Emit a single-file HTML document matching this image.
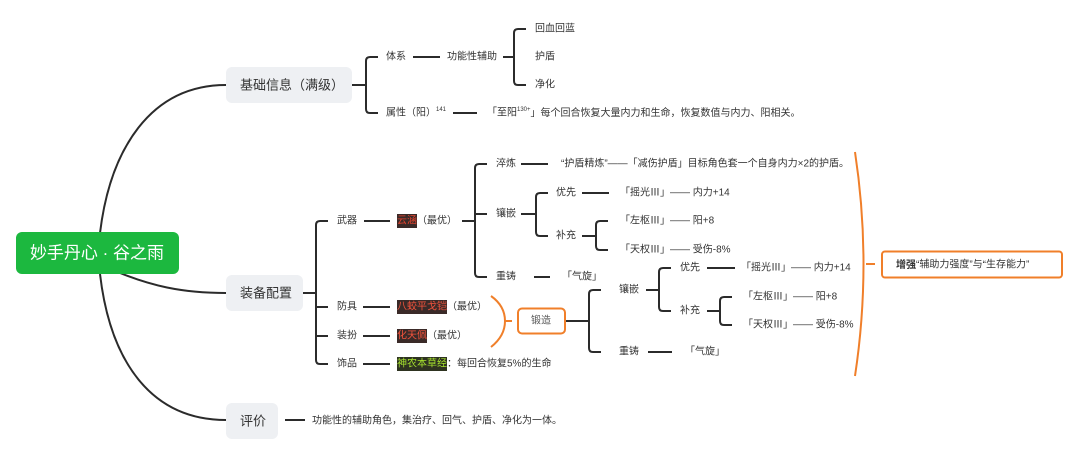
<!DOCTYPE html>
<html><head><meta charset="utf-8"><style>
html,body{margin:0;padding:0;background:#fff;}
svg{display:block;}
text{font-family:"Liberation Sans","Noto Sans CJK SC",sans-serif;fill:#333;dominant-baseline:central;}
.s{font-size:10px;}
.m{font-size:13px;}
</style></head><body>
<svg width="1080" height="456" viewBox="0 0 1080 456" xmlns="http://www.w3.org/2000/svg">
<g fill="none" stroke="#2b2b2b" stroke-width="2">
<path d="M100 233 C110 150 150 85 226 85"/>
<path d="M120 273 C150 285 180 293 226 293"/>
<path d="M100 274 C110 360 150 420 226 420"/>
<path d="M352 85 H366"/>
<path d="M378 57 H370 Q366 57 366 61 V109 Q366 113 370 113 H378"/>
<path d="M413 57 H440"/>
<path d="M503 57 H514"/>
<path d="M526 29 H518 Q514 29 514 33 V81 Q514 85 518 85 H526"/>
<path d="M453 113 H477"/>
<!-- equipment -->
<path d="M303 293 H316"/>
<path d="M328 221 H320 Q316 221 316 225 V360 Q316 364 320 364 H328"/>
<path d="M316 307 H328 M316 336 H328"/>
<path d="M364 221 H390 M363 307 H390 M363 336 H390 M363 364 H390"/>
<path d="M462 221 H475"/>
<path d="M487 164 H479 Q475 164 475 168 V273 Q475 277 479 277 H487"/>
<path d="M475 214 H487"/>
<path d="M521 164 H548"/>
<path d="M521 214 H536"/>
<path d="M548 193 H540 Q536 193 536 197 V232 Q536 236 540 236 H548"/>
<path d="M582 193 H609"/>
<path d="M582 236 H596"/>
<path d="M608 221 H600 Q596 221 596 225 V246 Q596 250 600 250 H608"/>
<path d="M534 277 H550"/>
<!-- forge -->
<path d="M565 321 H589"/>
<path d="M601 290 H593 Q589 290 589 294 V348 Q589 352 593 352 H601"/>
<path d="M646 290 H659"/>
<path d="M671 268 H663 Q659 268 659 272 V307 Q659 311 663 311 H671"/>
<path d="M707 268 H735"/>
<path d="M707 311 H720"/>
<path d="M732 297 H724 Q720 297 720 301 V321 Q720 325 724 325 H732"/>
<path d="M648 352 H672"/>
<path d="M285 420 H305"/>
</g>
<g fill="none" stroke="#f07f2a" stroke-width="2">
<path d="M491 296 Q505 306 505 321 Q505 336 491 347"/>
<path d="M505 321 H512"/>
<rect x="518" y="308.5" width="47" height="25" rx="4" fill="#fff"/>
<path d="M855 152 Q872 264 855 376"/>
<path d="M866 264 H875"/>
<rect x="882" y="251.5" width="180" height="26" rx="3" fill="#fff"/>
</g>
<rect x="16" y="232" width="163" height="42" rx="6" fill="#1cb83f"/>
<text x="97" y="253" text-anchor="middle" style="font-size:17px;fill:#fff">妙手丹心 · 谷之雨</text>
<rect x="226" y="67" width="126" height="36" rx="6" fill="#eef0f3"/>
<text x="240" y="85" class="m">基础信息（满级）</text>
<rect x="226" y="275" width="77" height="36" rx="6" fill="#eef0f3"/>
<text x="240" y="293" class="m">装备配置</text>
<rect x="226" y="403" width="52" height="36" rx="6" fill="#eef0f3"/>
<text x="240" y="421" class="m">评价</text>

<g class="s">
<text x="386" y="57" class="s">体系</text>
<text x="447" y="57" class="s">功能性辅助</text>
<text x="535" y="29" class="s">回血回蓝</text>
<text x="535" y="57" class="s">护盾</text>
<text x="535" y="85" class="s">净化</text>
<text x="386" y="113" class="s">属性（阳）<tspan style="font-size:6px" dy="-3">141</tspan></text>
<text x="487" y="113" class="s">「至阳<tspan style="font-size:6px" dy="-3">130+</tspan><tspan dy="3">」每个回合恢复大量内力和生命，恢复数值与内力、阳相关。</tspan></text>

<text x="337" y="221" class="s">武器</text>
<text x="337" y="307" class="s">防具</text>
<text x="337" y="336" class="s">装扮</text>
<text x="337" y="364" class="s">饰品</text>
<rect x="397" y="214" width="20" height="14" fill="#3a2a28"/>
<text x="397" y="221" class="s" style="fill:#e8442e">云涵</text>
<text x="417" y="221" class="s">（最优）</text>
<rect x="397" y="300" width="50" height="14" fill="#3a2a28"/>
<text x="397" y="307" class="s" style="fill:#f2533c">八蛟平戈铠</text>
<text x="447" y="307" class="s">（最优）</text>
<rect x="397" y="329" width="30" height="14" fill="#3a2a28"/>
<text x="397" y="336" class="s" style="fill:#f2533c">化天佩</text>
<text x="427" y="336" class="s">（最优）</text>
<rect x="397" y="357" width="50" height="14" fill="#2e3320"/>
<text x="397" y="364" class="s" style="fill:#a6e22e">神农本草经</text>
<text x="447" y="364" class="s">：每回合恢复5%的生命</text>

<text x="496" y="164" class="s">淬炼</text>
<text x="561" y="164" class="s">“护盾精炼”——「减伤护盾」目标角色套一个自身内力×2的护盾。</text>
<text x="496" y="214" class="s">镶嵌</text>
<text x="556" y="193" class="s">优先</text>
<text x="620" y="193" class="s">「摇光Ⅲ」—— 内力+14</text>
<text x="556" y="236" class="s">补充</text>
<text x="620" y="221" class="s">「左枢Ⅲ」—— 阳+8</text>
<text x="620" y="250" class="s">「天权Ⅲ」—— 受伤-8%</text>
<text x="496" y="277" class="s">重铸</text>
<text x="562" y="277" class="s">「气旋」</text>

<text x="541" y="321" class="s" text-anchor="middle" style="fill:#555">锻造</text>
<text x="619" y="290" class="s">镶嵌</text>
<text x="680" y="268" class="s">优先</text>
<text x="741" y="268" class="s">「摇光Ⅲ」—— 内力+14</text>
<text x="680" y="311" class="s">补充</text>
<text x="743" y="297" class="s">「左枢Ⅲ」—— 阳+8</text>
<text x="743" y="325" class="s">「天权Ⅲ」—— 受伤-8%</text>
<text x="619" y="352" class="s">重铸</text>
<text x="685" y="352" class="s">「气旋」</text>

<text x="896" y="265" class="s"><tspan style="font-weight:bold">增强</tspan>“辅助力强度”与“生存能力”</text>
<text x="312" y="421" class="s">功能性的辅助角色，集治疗、回气、护盾、净化为一体。</text>
</g>
</svg>
</body></html>
